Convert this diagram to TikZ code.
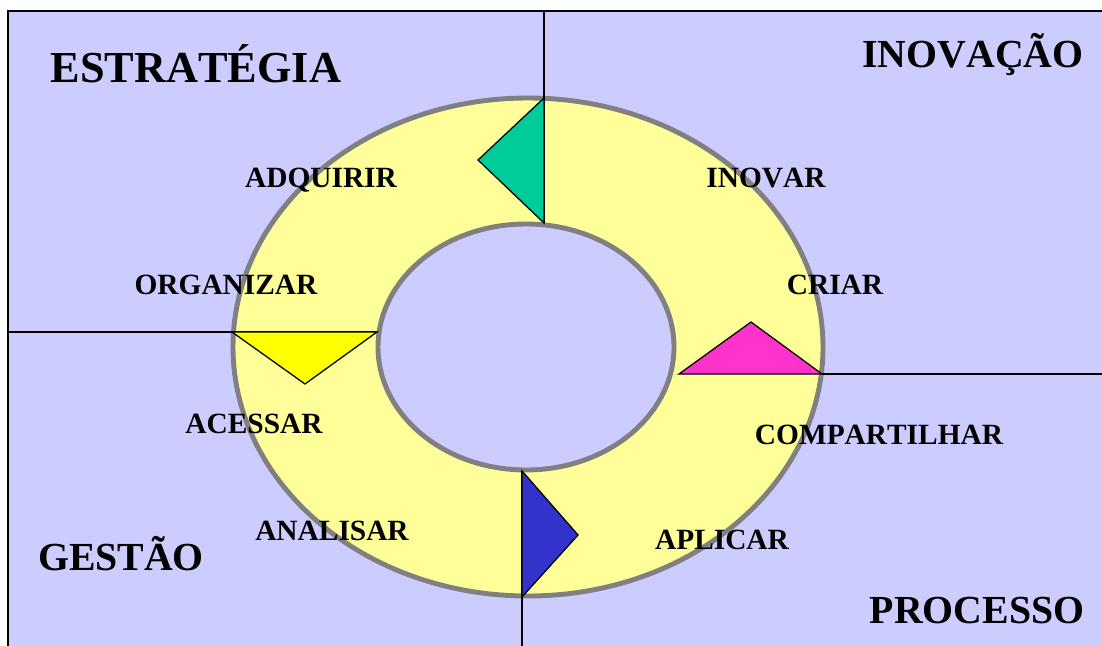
\documentclass[tikz,border=0pt]{standalone}
\usepackage{fontspec}
\setmainfont[Kerning=Off]{Liberation Serif}
\usepackage{tikz}
\usetikzlibrary{positioning,calc}
\usepackage{xcolor}
\definecolor{lavender}{HTML}{CCCCFF}
\definecolor{ringyellow}{HTML}{FFFF99}
\definecolor{ringgrey}{HTML}{808080}
\definecolor{tealgreen}{HTML}{00CC99}
\definecolor{brightyellow}{HTML}{FFFF00}
\definecolor{hotpink}{HTML}{FF33CC}
\definecolor{deepblue}{HTML}{3333CC}

\begin{document}
\begin{tikzpicture}[
      quadlabel/.style={anchor=base, inner sep=0pt, font=\fontsize{28.3}{31}\selectfont\bfseries},
      steplabel/.style={anchor=base, inner sep=0pt, font=\fontsize{20.9}{23}\selectfont\bfseries},
      ringline/.style={draw=ringgrey, line width=3.5pt},
      divider/.style={draw=black, line width=0.9pt},
      marker/.style={draw=black, line width=0.9pt, line join=miter}
    ]
    \useasboundingbox (0,0) rectangle (27.55,16.125);
    \clip (0,0) rectangle (27.55,16.125);

    % Background quadrants
    \draw[fill=lavender, line width=0.9pt] (0.2,-0.5) rectangle (28,15.85);

    % Ring
    \draw[ringline, fill=ringyellow] (13.2,7.45) ellipse [x radius=7.375, y radius=6.225];
    \draw[ringline, fill=lavender] (13.15,7.45) ellipse [x radius=3.7, y radius=3.075];

    % Dividing lines
    \draw[divider] (13.6,15.85) -- (13.6,10.55);
    \draw[divider] (0.2,7.825) -- (9.425,7.825);
    \draw[divider] (20.55,6.775) -- (28,6.775);
    \draw[divider] (13.05,4.35) -- (13.05,-0.5);

    % Triangles
    \draw[marker, fill=tealgreen] (13.6,13.675) -- (13.6,10.55) -- (11.95,12.125) -- cycle;
    \draw[marker, fill=brightyellow] (5.8,7.825) -- (9.425,7.825) -- (7.625,6.525) -- cycle;
    \draw[marker, fill=hotpink] (16.975,6.775) -- (20.55,6.775) -- (18.775,8.075) -- cycle;
    \draw[marker, fill=deepblue] (13.05,4.35) -- (13.05,1.2) -- (14.45,2.75) -- cycle;

    % Quadrant labels
    \node[quadlabel, font=\fontsize{31.5}{34}\selectfont\bfseries] (estrategia) at (4.9,14.05) {ESTRATÉGIA};
    \node[quadlabel] (inovacao) at (24.325,14.425) {INOVAÇÃO};
    \node[quadlabel] (gestao) at (3.025,1.875) {GESTÃO};
    \node[quadlabel] (processo) at (24.425,0.55) {PROCESSO};

    % Step labels
    \node[steplabel] (adquirir) at (8.025,11.45) {ADQUIRIR};
    \node[steplabel] (inovar) at (19.15,11.45) {INOVAR};
    \node[steplabel] (organizar) at (5.65,8.775) {ORGANIZAR};
    \node[steplabel] (criar) at (20.875,8.775) {CRIAR};
    \node[steplabel] (acessar) at (6.35,5.3) {ACESSAR};
    \node[steplabel] (compartilhar) at (21.975,5.025) {COMPARTILHAR};
    \node[steplabel] (analisar) at (8.3,2.625) {ANALISAR};
    \node[steplabel] (aplicar) at (18.05,2.4) {APLICAR};
  \end{tikzpicture}
\end{document}
